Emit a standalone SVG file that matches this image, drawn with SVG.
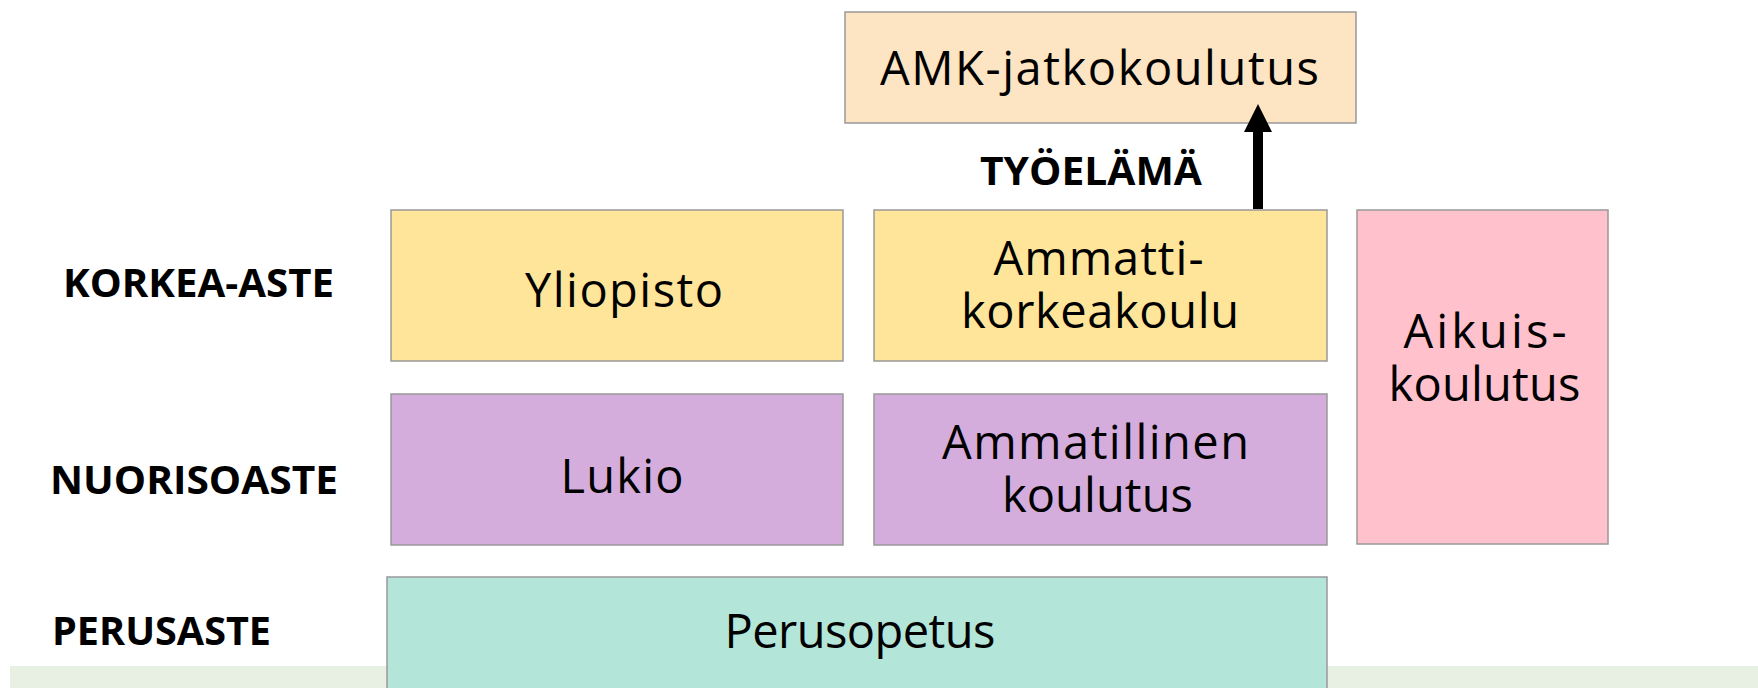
<svg xmlns="http://www.w3.org/2000/svg" width="1758" height="688" viewBox="0 0 1758 688">
<style>
.box{stroke:#999;stroke-width:1.5}
.t{font-family:"Open Sans",Lato,"Liberation Sans",sans-serif;font-size:47px;fill:#000;text-anchor:middle}
.lbl{font-family:"Open Sans",Lato,"Liberation Sans",sans-serif;font-size:39px;font-weight:bold;fill:#000}
</style>
<rect width="1758" height="688" fill="#fff"/>
<rect x="10" y="666" width="1748" height="30" fill="#E8F0E3"/>
<g id="label-korkea"><text class="lbl" x="63" y="297" textLength="271" lengthAdjust="spacingAndGlyphs">KORKEA-ASTE</text></g>
<g id="label-nuoriso"><text class="lbl" x="50" y="494" textLength="288" lengthAdjust="spacingAndGlyphs">NUORISOASTE</text></g>
<g id="label-perus"><text class="lbl" x="52" y="645" textLength="219" lengthAdjust="spacingAndGlyphs">PERUSASTE</text></g>
<g id="label-tyoelama"><text class="lbl" x="980" y="185" textLength="222" lengthAdjust="spacingAndGlyphs">TYÖELÄMÄ</text></g>
<g id="amk-jatko"><rect class="box" x="845" y="12" width="511" height="111" fill="#FDE4C2"/><text class="t" x="1099.5" y="85" textLength="439">AMK-jatkokoulutus</text></g>
<g id="yliopisto"><rect class="box" x="391" y="210" width="452" height="151" fill="#FFE599"/><text class="t" x="624" y="307" textLength="198">Yliopisto</text></g>
<g id="amk"><rect class="box" x="874" y="210" width="453" height="151" fill="#FFE599"/><text class="t" x="1098.5" y="275" textLength="210">Ammatti-</text><text class="t" x="1100" y="328" textLength="278">korkeakoulu</text></g>
<g id="lukio"><rect class="box" x="391" y="394" width="452" height="151" fill="#D4ADDC"/><text class="t" x="622" y="493" textLength="123">Lukio</text></g>
<g id="ammatillinen"><rect class="box" x="874" y="394" width="453" height="151" fill="#D4ADDC"/><text class="t" x="1095.5" y="459" textLength="307">Ammatillinen</text><text class="t" x="1097.5" y="512" textLength="191">koulutus</text></g>
<g id="aikuis"><rect class="box" x="1357" y="210" width="251" height="334" fill="#FFC1CC"/><text class="t" x="1485" y="348" textLength="163">Aikuis-</text><text class="t" x="1484.5" y="401" textLength="192">koulutus</text></g>
<g id="perusopetus"><rect class="box" x="387" y="577" width="940" height="130" fill="#B3E5D9"/><text class="t" x="860" y="648" textLength="271">Perusopetus</text></g>
<g id="connectors">
<line x1="1258" y1="209" x2="1258" y2="128" stroke="#000" stroke-width="10"/>
<polygon points="1258,104 1244,132 1272,132" fill="#000"/>
</g>
</svg>
